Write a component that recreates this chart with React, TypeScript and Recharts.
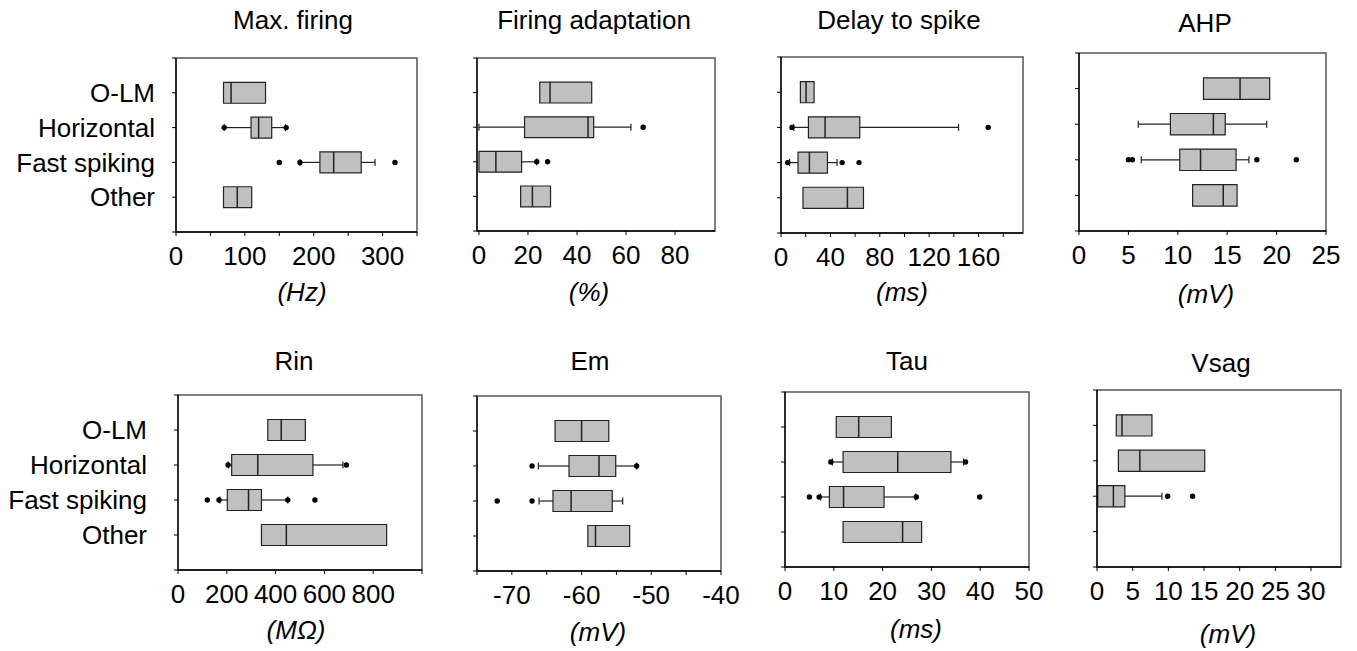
import React from 'react';
import { ScatterChart, Scatter, XAxis, YAxis, ReferenceArea, ReferenceLine } from 'recharts';

const cellTypes = ['O-LM', 'Horizontal', 'Fast spiking', 'Other'];

type Stat = { q1: number; med: number; q3: number; lo?: number; hi?: number; dots?: number[] } | null;

// Max. firing (Hz)
const maxFiring: Stat[] = [
  { q1: 69, med: 80, q3: 130 },
  { lo: 70, q1: 109, med: 120, q3: 139, hi: 159, dots: [70, 160] },
  { lo: 180, q1: 209, med: 229, q3: 269, hi: 289, dots: [150, 180, 318] },
  { q1: 69, med: 89, q3: 110 },
];
// Firing adaptation (%)
const firingAdaptation: Stat[] = [
  { q1: 24.8, med: 29, q3: 46 },
  { lo: 0, q1: 18.6, med: 44.5, q3: 46.8, hi: 62, dots: [67] },
  { q1: 0, med: 6.9, q3: 17.4, hi: 23.6, dots: [23.6, 28] },
  { q1: 17, med: 21.8, q3: 29.2 },
];
// Delay to spike (ms)
const delayToSpike: Stat[] = [
  { q1: 15.7, med: 20.3, q3: 26.8 },
  { lo: 10.3, q1: 22.2, med: 35.7, q3: 63.8, hi: 143.8, dots: [8.9, 167.8] },
  { lo: 7, q1: 13.8, med: 23, q3: 37.6, hi: 45.4, dots: [5.4, 49.5, 63.2] },
  { q1: 17.8, med: 53.8, q3: 66.8 },
];
// AHP (mV)
const ahp: Stat[] = [
  { q1: 12.6, med: 16.3, q3: 19.3 },
  { lo: 6.0, q1: 9.25, med: 13.6, q3: 14.8, hi: 19.0 },
  { lo: 6.3, q1: 10.2, med: 12.3, q3: 15.9, hi: 17.2, dots: [5.0, 5.4, 18.0, 22.0] },
  { q1: 11.5, med: 14.6, q3: 16.0 },
];
// Rin (MOhm)
const rin: Stat[] = [
  { q1: 368, med: 423, q3: 522 },
  { lo: 207, q1: 220, med: 327, q3: 553, hi: 676, dots: [205, 690] },
  { lo: 172, q1: 202, med: 289, q3: 342, hi: 450, dots: [120, 168, 450, 561] },
  { q1: 342, med: 444, q3: 855 },
];
// Em (mV)
const em: Stat[] = [
  { q1: -63.8, med: -60, q3: -56.1 },
  { lo: -66.2, q1: -61.8, med: -57.5, q3: -55.1, hi: -52.1, dots: [-67.1, -52.1] },
  { lo: -66.1, q1: -64.1, med: -61.5, q3: -55.6, hi: -54.1, dots: [-72.1, -67.1] },
  { q1: -59.1, med: -58.0, q3: -53.1 },
];
// Tau (ms)
const tau: Stat[] = [
  { q1: 10.5, med: 15.1, q3: 21.8 },
  { lo: 9.7, q1: 11.9, med: 23.1, q3: 34.0, hi: 36.6, dots: [9.4, 37.0] },
  { lo: 7.3, q1: 9.1, med: 12.0, q3: 20.3, hi: 26.8, dots: [5.0, 7.0, 26.9, 39.9] },
  { q1: 11.9, med: 24.1, q3: 28.0 },
];
// Vsag (mV)
const vsag: Stat[] = [
  { q1: 2.7, med: 3.5, q3: 7.7 },
  { q1: 3.0, med: 6.0, q3: 15.1 },
  { q1: 0.1, med: 2.3, q3: 3.9, hi: 9.1, dots: [9.9, 13.4] },
  null,
];

const maxFiringTicks = [0, 50, 100, 150, 200, 250, 300, 350];
const maxFiringLabels = [0, 100, 200, 300];
const adaptationTicks = [0, 20, 40, 60, 80];
const delayTicks = [0, 20, 40, 60, 80, 100, 120, 140, 160, 180];
const delayLabels = [0, 40, 80, 120, 160];
const ahpTicks = [0, 5, 10, 15, 20, 25];
const rinTicks = [0, 200, 400, 600, 800, 1000];
const rinLabels = [0, 200, 400, 600, 800];
const emTicks = [-75, -70, -65, -60, -55, -50, -45, -40];
const emLabels = [-70, -60, -50, -40];
const tauTicks = [0, 10, 20, 30, 40, 50];
const vsagTicks = [0, 5, 10, 15, 20, 25, 30];

type PanelCfg = {
  title: string;
  unit: string;
  stats: Stat[];
  domain: [number, number];
  ticks: number[];
  labels: number[];
  x0: number; x1: number; y0: number; y1: number;
  titleAt: [number, number];
  unitAt: [number, number];
  cats?: number;
  padRight?: number;
};

const panels: PanelCfg[] = [
  { title: 'Max. firing', unit: '(Hz)', stats: maxFiring, domain: [0, 350], ticks: maxFiringTicks, labels: maxFiringLabels,
    x0: 176, x1: 417, y0: 58, y1: 232, titleAt: [293, 20], unitAt: [302, 292], cats: 17 },
  { title: 'Firing adaptation', unit: '(%)', stats: firingAdaptation, domain: [-0.8, 96.3], ticks: adaptationTicks, labels: adaptationTicks,
    x0: 477, x1: 715, y0: 58, y1: 231, titleAt: [594, 20], unitAt: [589, 292] },
  { title: 'Delay to spike', unit: '(ms)', stats: delayToSpike, domain: [0, 196], ticks: delayTicks, labels: delayLabels,
    x0: 781, x1: 1023, y0: 57, y1: 233, titleAt: [899, 20], unitAt: [902, 292] },
  { title: 'AHP', unit: '(mV)', stats: ahp, domain: [0, 25], ticks: ahpTicks, labels: ahpTicks,
    x0: 1079, x1: 1326, y0: 53, y1: 231, titleAt: [1205, 23], unitAt: [1206, 294] },
  { title: 'Rin', unit: '(MΩ)', stats: rin, domain: [0, 1000], ticks: rinTicks, labels: rinLabels,
    x0: 178, x1: 422, y0: 395, y1: 570, titleAt: [294, 361], unitAt: [296, 630], cats: 27 },
  { title: 'Em', unit: '(mV)', stats: em, domain: [-75, -40], ticks: emTicks, labels: emLabels,
    x0: 477, x1: 721, y0: 396, y1: 571, titleAt: [590, 361], unitAt: [598, 632] },
  { title: 'Tau', unit: '(ms)', stats: tau, domain: [0, 50], ticks: tauTicks, labels: tauTicks,
    x0: 785, x1: 1029, y0: 392, y1: 567, titleAt: [907, 361], unitAt: [916, 629] },
  { title: 'Vsag', unit: '(mV)', stats: vsag, domain: [0, 34.2], ticks: vsagTicks, labels: vsagTicks,
    x0: 1097, x1: 1341, y0: 390, y1: 567, titleAt: [1221, 363], unitAt: [1228, 634], padRight: 10 },
];

const FONT = '"Liberation Sans", Arial, Helvetica, sans-serif';
const INK = '#222';
const HALF = 0.3;
const CAP = 0.1;

const Dot = (props: any) => <circle cx={props.cx} cy={props.cy} r={2.7} fill="#000" />;

function Panel({ p }: { p: PanelCfg }) {
  const yw = p.cats ? p.x0 : 10;
  const padTop = 8;
  const padRight = p.padRight ?? 22;
  const axisH = 40;
  const width = yw + (p.x1 - p.x0) + padRight;
  const height = padTop + (p.y1 - p.y0) + axisH;
  const dots = p.stats.flatMap((s, i) => (s?.dots ?? []).map((x) => ({ x, y: i + 1 })));

  const marks: React.ReactNode[] = [];
  p.stats.forEach((s, i) => {
    if (!s) return;
    const y = i + 1;
    if (s.lo !== undefined) {
      marks.push(<ReferenceLine key={`wl${i}`} segment={[{ x: s.lo, y }, { x: s.q1, y }]} stroke={INK} strokeWidth={1.2} />);
      marks.push(<ReferenceLine key={`cl${i}`} segment={[{ x: s.lo, y: y - CAP }, { x: s.lo, y: y + CAP }]} stroke={INK} strokeWidth={1.2} />);
    }
    if (s.hi !== undefined) {
      marks.push(<ReferenceLine key={`wh${i}`} segment={[{ x: s.q3, y }, { x: s.hi, y }]} stroke={INK} strokeWidth={1.2} />);
      marks.push(<ReferenceLine key={`ch${i}`} segment={[{ x: s.hi, y: y - CAP }, { x: s.hi, y: y + CAP }]} stroke={INK} strokeWidth={1.2} />);
    }
    marks.push(
      <ReferenceArea key={`b${i}`} x1={s.q1} x2={s.q3} y1={y - HALF} y2={y + HALF}
        fill="#c0c0c0" fillOpacity={1} stroke={INK} strokeWidth={1.2} />
    );
    marks.push(<ReferenceLine key={`m${i}`} segment={[{ x: s.med, y: y - HALF }, { x: s.med, y: y + HALF }]} stroke={INK} strokeWidth={1.5} />);
  });

  return (
    <>
      <div style={{ position: 'absolute', left: p.titleAt[0] - 150, top: p.titleAt[1] - 14, width: 300,
        textAlign: 'center', fontSize: 26, lineHeight: '28px', fontFamily: FONT, color: '#000' }}>{p.title}</div>
      <div style={{ position: 'absolute', left: p.x0 - yw, top: p.y0 - padTop }}>
        <ScatterChart width={width} height={height} margin={{ top: padTop, right: padRight, bottom: 0, left: 0 }}>
          <XAxis type="number" dataKey="x" domain={p.domain} ticks={p.ticks} interval={0} allowDataOverflow
            tickFormatter={(v: number) => (p.labels.includes(v) ? String(v) : '')}
            height={axisH} tickSize={4} tickMargin={11}
            tick={{ fontSize: 26, fill: '#000', fontFamily: FONT }}
            axisLine={{ stroke: '#000', strokeWidth: 1.3 }} tickLine={{ stroke: '#000' }} />
          <YAxis type="number" dataKey="y" domain={[0, 5]} reversed ticks={[0, 1, 2, 3, 4, 5]} interval={0}
            tickFormatter={(v: number) => (p.cats && v >= 1 && v <= 4 ? cellTypes[v - 1] : '')}
            width={yw} tickSize={4} tickMargin={p.cats ?? 2}
            tick={{ fontSize: 26, fill: '#000', fontFamily: FONT }}
            axisLine={{ stroke: '#000', strokeWidth: 1.3 }} tickLine={{ stroke: '#000' }} />
          <ReferenceArea x1={p.domain[0]} x2={p.domain[1]} y1={0} y2={5} fill="none" fillOpacity={0}
            stroke="#555" strokeWidth={1.5} />
          {marks}
          <Scatter data={dots} isAnimationActive={false} shape={Dot} />
        </ScatterChart>
      </div>
      <div style={{ position: 'absolute', left: p.unitAt[0] - 100, top: p.unitAt[1] - 14, width: 200,
        textAlign: 'center', fontSize: 26, lineHeight: '28px', fontStyle: 'italic', fontFamily: FONT, color: '#000' }}>{p.unit}</div>
    </>
  );
}

export default function App() {
  return (
    <div style={{ position: 'absolute', left: 0, top: 0, width: 1357, height: 651, overflow: 'hidden', background: '#fff' }}>
      {panels.map((p) => <Panel key={p.title} p={p} />)}
    </div>
  );
}
